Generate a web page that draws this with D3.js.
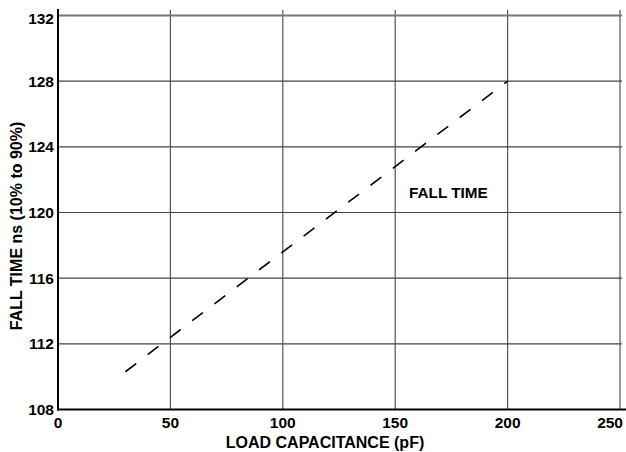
<!DOCTYPE html>
<html>
<head>
<meta charset="utf-8">
<script src="https://cdn.jsdelivr.net/npm/d3@7"></script>
<style>
  body { margin: 0; background: #fff; }
  svg text { font-family: "Liberation Sans", Arial, Helvetica, sans-serif; font-weight: bold; fill: #000; }
</style>
</head>
<body>
<div id="chart"></div>
<script>
// values
const capValues = [30, 50, 100, 150, 200]           // pF
const fallValues = [110.3, 112.4, 117.6, 122.8, 128] // ns
const xTicks = [0, 50, 100, 150, 200, 250]
const yTicks = [108, 112, 116, 120, 124, 128, 132]

const width = 626
const height = 452

const svg = d3.select("#chart")
  .append("svg")
  .attr("width", width)
  .attr("height", height)

const x = d3.scaleLinear().domain([0, 250]).range([58, 620])
const y = d3.scaleLinear().domain([108, 132]).range([409.5, 15.5])

// vertical grid
svg.append("g")
  .selectAll("line")
  .data(xTicks.slice(1))
  .enter()
  .append("line")
  .attr("x1", d => x(d)).attr("x2", d => x(d))
  .attr("y1", 10).attr("y2", y(108))
  .style("stroke", "#555")
  .style("stroke-width", 1.2)

// horizontal grid
svg.append("g")
  .selectAll("line")
  .data(yTicks.slice(1))
  .enter()
  .append("line")
  .attr("x1", x(0)).attr("x2", 622)
  .attr("y1", d => y(d)).attr("y2", d => y(d))
  .style("stroke", d => d === 132 ? "#777" : "#444")
  .style("stroke-width", d => d === 132 ? 2 : 1.2)

// axes lines
svg.append("line")
  .attr("x1", x(0)).attr("x2", x(0))
  .attr("y1", 9).attr("y2", y(108) + 1)
  .style("stroke", "#000").style("stroke-width", 2)
svg.append("line")
  .attr("x1", x(0) - 1).attr("x2", 626)
  .attr("y1", y(108)).attr("y2", y(108))
  .style("stroke", "#000").style("stroke-width", 2)

// tick labels
svg.append("g")
  .selectAll("text")
  .data(yTicks)
  .enter()
  .append("text")
  .attr("x", 54)
  .attr("y", d => y(d))
  .attr("dy", d => d === 132 ? "0.52em" : "0.36em")
  .attr("text-anchor", "end")
  .style("font-size", "15.5px")
  .text(d => d)

// last label is pulled in so it stays on the page
svg.append("g")
  .selectAll("text")
  .data(xTicks)
  .enter()
  .append("text")
  .attr("x", d => d === 250 ? 623 : x(d))
  .attr("y", 428)
  .attr("text-anchor", d => d === 250 ? "end" : "middle")
  .style("font-size", "15.5px")
  .text(d => d)

// axis titles
svg.append("text")
  .attr("x", 325)
  .attr("y", 448)
  .attr("text-anchor", "middle")
  .style("font-size", "16px")
  .text("LOAD CAPACITANCE (pF)")

svg.append("text")
  .attr("transform", "translate(22,226) rotate(-90)")
  .attr("text-anchor", "middle")
  .style("font-size", "16px")
  .text("FALL TIME ns (10% to 90%)")

// dashed curve
const line = d3.line()
  .x((d, i) => x(capValues[i]))
  .y(d => y(d))

svg.append("path")
  .datum(fallValues)
  .attr("d", line)
  .style("fill", "none")
  .style("stroke", "#000")
  .style("stroke-width", 1.6)
  .style("stroke-dasharray", "13.5,14.5")

svg.append("text")
  .attr("x", 409)
  .attr("y", 198)
  .style("font-size", "15.3px")
  .text("FALL TIME")
</script>
</body>
</html>
